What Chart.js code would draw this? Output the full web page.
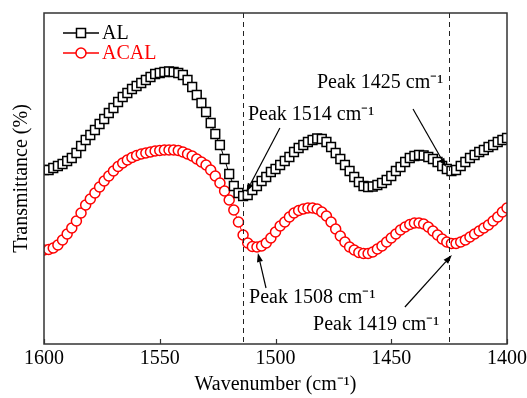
<!DOCTYPE html>
<html><head><meta charset="utf-8">
<script src="https://cdn.jsdelivr.net/npm/chart.js@4"></script>
<style>html,body{margin:0;padding:0;background:#fff}</style>
</head><body>
<canvas id="c" width="527" height="398"></canvas>
<script>
const wavenumbers = [1600,1598,1596,1594,1592,1590,1588,1586,1584,1582,
1580,1578,1576,1574,1572,1570,1568,1566,1564,1562,
1560,1558,1556,1554,1552,1550,1548,1546,1544,1542,
1540,1538,1536,1534,1532,1530,1528,1526,1524,1522,
1520,1518,1516,1514,1512,1510,1508,1506,1504,1502,
1500,1498,1496,1494,1492,1490,1488,1486,1484,1482,
1480,1478,1476,1474,1472,1470,1468,1466,1464,1462,
1460,1458,1456,1454,1452,1450,1448,1446,1444,1442,
1440,1438,1436,1434,1432,1430,1428,1426,1424,1422,
1420,1418,1416,1414,1412,1410,1408,1406,1404,1402,
1400];
const seriesNames = ['AL', 'ACAL'];
const alValues = [174,174,176,178,180,183,186,191,198,204,
209,214,220,225,231,236,242,247,251,255,
258,261,264,267,270,271,272,272.5,272,271,
269,264,257,249,241,232,221,210,199,185,
170,158,151,148,149,154,158,163,167,172,
175,179,183,187,192,196,199,202,204,205.5,
205,202,197,191,185,179,173,167,162,158,
157,157.5,159,161,164,168,173,177,182,186,
188,189,188.5,187,185,182,178,175,173,174,
178,182,186,189,192,194,197,199,202,204,
206];
const acalValues = [94,94.5,96,99,104,110,116,123,131,139,
145,151,157,163,168,173,177.5,181,184,186.5,
188.5,190,191,192,193,193.5,194,194,194,193.5,
192,190,188,185,182,179,174,168,161,153,
144,134,122,109,101,97.5,97,98,101,106,
112,118,122,127,131,133.5,135,136,136,135,
132,128,122,115,108,102,97,94,91.5,90.5,
90.5,92,95,98,102,106,110,114,117,119.5,
121,121,120,117,113,109,105,102,100.5,100.5,
102,104,107,110,113,116,119,123,127,132,
136];
const xTicks = [1600, 1550, 1500, 1450, 1400];
const peakLines = [1514, 1425];
const peakNotes = [
  {text:'Peak 1514 cm\u207B\u00B9', at:[1511.9,224], from:[1498.1,216], to:[1512.6,152]},
  {text:'Peak 1425 cm\u207B\u00B9', at:[1482.1,256], from:[1440.6,235], to:[1426.3,177]},
  {text:'Peak 1508 cm\u207B\u00B9', at:[1511.4,41],  from:[1504.1,56],  to:[1507.6,91]},
  {text:'Peak 1419 cm\u207B\u00B9', at:[1483.8,14],  from:[1444.1,37],  to:[1423.8,89]}
];

const FONT = '"Liberation Serif", "Times New Roman", serif';
const colors = ['#000000', '#ff0000'];
const styles = ['rect', 'circle'];
const radii = [6.2, 5];

const decor = {
  id: 'decor',
  afterDatasetsDraw(chart) {
    const ctx = chart.ctx, a = chart.chartArea;
    const xs = chart.scales.x, ys = chart.scales.y;
    ctx.save();
    ctx.strokeStyle = '#222'; ctx.lineWidth = 1; ctx.setLineDash([5, 4]);
    peakLines.forEach(w => {
      const x = Math.round(xs.getPixelForValue(w)) + 0.5;
      ctx.beginPath(); ctx.moveTo(x, a.top); ctx.lineTo(x, a.bottom); ctx.stroke();
    });
    ctx.setLineDash([]);
    ctx.fillStyle = '#000'; ctx.strokeStyle = '#000'; ctx.lineWidth = 1.2;
    ctx.font = '20px ' + FONT; ctx.textBaseline = 'alphabetic'; ctx.textAlign = 'left';
    peakNotes.forEach(n => {
      const x1 = xs.getPixelForValue(n.from[0]), y1 = ys.getPixelForValue(n.from[1]);
      const x2 = xs.getPixelForValue(n.to[0]), y2 = ys.getPixelForValue(n.to[1]);
      const ang = Math.atan2(y2 - y1, x2 - x1);
      const hl = 9, hw = 3;
      const bx = x2 - hl * Math.cos(ang), by = y2 - hl * Math.sin(ang);
      ctx.beginPath(); ctx.moveTo(x1, y1); ctx.lineTo(bx, by); ctx.stroke();
      ctx.beginPath();
      ctx.moveTo(x2, y2);
      ctx.lineTo(bx + hw * Math.sin(ang), by - hw * Math.cos(ang));
      ctx.lineTo(bx - hw * Math.sin(ang), by + hw * Math.cos(ang));
      ctx.closePath(); ctx.fill();
      ctx.fillText(n.text, xs.getPixelForValue(n.at[0]), ys.getPixelForValue(n.at[1]));
    });
    seriesNames.forEach((name, i) => {
      const y = 33 + i * 20;
      ctx.strokeStyle = colors[i]; ctx.lineWidth = 1.5;
      ctx.beginPath(); ctx.moveTo(63, y); ctx.lineTo(99, y); ctx.stroke();
      ctx.fillStyle = '#fff';
      ctx.lineWidth = 1.5;
      if (styles[i] === 'rect') {
        ctx.beginPath(); ctx.rect(81 - 4.5, y - 4.5, 9, 9); ctx.fill(); ctx.stroke();
      } else {
        ctx.beginPath(); ctx.arc(81, y, 5, 0, Math.PI * 2); ctx.fill(); ctx.stroke();
      }
      ctx.fillStyle = colors[i]; ctx.textBaseline = 'middle';
      ctx.fillText(name, 102, y + 1);
    });
    ctx.strokeStyle = '#333'; ctx.lineWidth = 1.5;
    ctx.strokeRect(a.left, a.top, a.right - a.left, a.bottom - a.top);
    ctx.lineWidth = 1.2;
    xTicks.forEach(w => {
      const x = Math.round(xs.getPixelForValue(w)) + 0.5;
      ctx.beginPath(); ctx.moveTo(x, a.bottom); ctx.lineTo(x, a.bottom - 5); ctx.stroke();
    });
    ctx.restore();
  }
};

new Chart(document.getElementById('c'), {
  type: 'line',
  data: {
    datasets: [alValues, acalValues].map((vals, i) => ({
      label: seriesNames[i],
      data: wavenumbers.map((w, k) => ({x: w, y: vals[k]})),
      borderColor: colors[i],
      borderWidth: 1,
      pointStyle: styles[i],
      pointRadius: radii[i],
      pointBorderWidth: 1.5,
      pointBorderColor: colors[i],
      pointBackgroundColor: '#ffffff',
      tension: 0,
      fill: false
    }))
  },
  options: {
    responsive: false,
    animation: false,
    layout: {padding: {top: 13, right: 20, left: 0, bottom: 0}},
    plugins: {legend: {display: false}, tooltip: {enabled: false}},
    scales: {
      x: {
        type: 'linear', reverse: true, min: 1400, max: 1600,
        afterBuildTicks(s) { s.ticks = xTicks.map(v => ({value: v})); },
        ticks: {font: {family: FONT, size: 20}, color: '#000', padding: 3, maxRotation: 0, autoSkip: false,
                callback: v => String(v)},
        grid: {display: false, drawTicks: false},
        border: {display: false},
        title: {display: true, text: 'Wavenumber (cm\u207B\u00B9)', color: '#000',
                font: {family: FONT, size: 20}, padding: {top: 0, bottom: 1}},
        afterFit(s) { s.height = 54; s.paddingLeft = 0; s.paddingRight = 0; }
      },
      y: {
        min: 0, max: 331,
        ticks: {display: false},
        grid: {display: false, drawTicks: false},
        border: {display: false},
        title: {display: true, text: 'Transmittance (%)', color: '#000',
                font: {family: FONT, size: 20}, padding: {top: 10, bottom: 0}},
        afterFit(s) { s.width = 44; }
      }
    }
  },
  plugins: [decor]
});
</script>
</body></html>
